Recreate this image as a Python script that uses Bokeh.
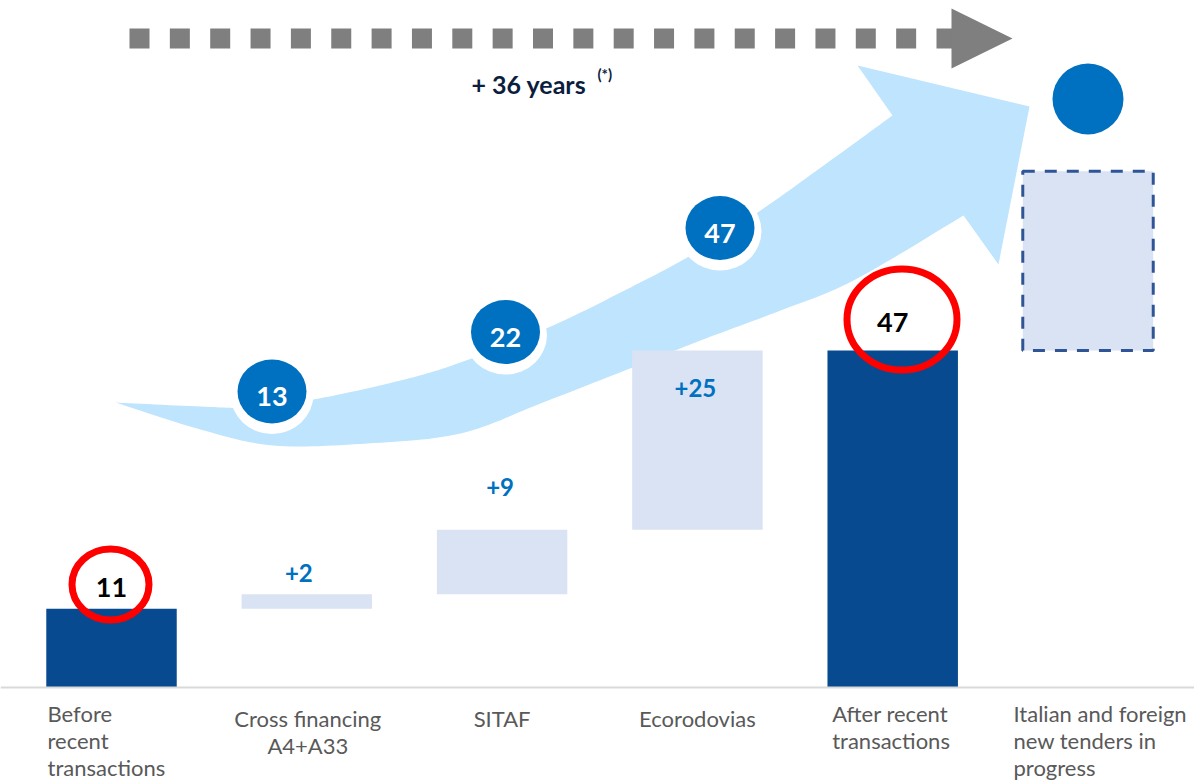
import numpy as np
from bokeh.plotting import figure
from bokeh.models import Range1d, ColumnDataSource, Span
from bokeh.core.properties import value
from bokeh.embed import file_html
from bokeh.resources import INLINE

# ---------------- data ----------------
categories = ["Before\nrecent\ntransactions", "Cross financing\nA4+A33", "SITAF",
              "Ecorodovias", "After recent\ntransactions",
              "Italian and foreign\nnew tenders in\nprogress"]
start_value = 11
increments = [2, 9, 25]
end_value = 47
pipeline_increment = 25          # dashed, still to come
milestones = [13, 22, 47]        # values shown on the curved arrow
horizon_label = "+ 36 years"
horizon_note = "(*)"

# ---------------- styles ----------------
DARK = "#074A8F"
LIGHT = "#DAE3F3"
ARROW = "#BFE4FD"
BLUE = "#0070C0"
RED = "#FF0000"
GREY = "#7F7F7F"
FONT = value("Lato")

W, H = 1194, 784
n = len(categories)
idx = list(range(n))

cum = list(np.cumsum([start_value] + increments))       # 11, 13, 22, 47
solid_bottom = [0] + cum[:-1] + [0]
solid_top = cum + [end_value]
solid_color = [DARK] + [LIGHT] * len(increments) + [DARK]

p = figure(width=W, height=H, output_backend="svg", toolbar_location=None,
           x_range=Range1d(-0.5684, 5.5453), y_range=Range1d(-13.53, 95.82),
           x_axis_location=None, y_axis_location=None, min_border=0,
           outline_line_color=None, background_fill_color="white")
p.grid.visible = False
# screen-pixel ranges for decorations
p.extra_x_ranges = {"px": Range1d(0, W)}
p.extra_y_ranges = {"px": Range1d(H, 0)}
PX = dict(x_range_name="px", y_range_name="px")


def smooth(pts, k=14):
    P = np.asarray(pts, float)
    P = np.vstack([P[0], P, P[-1]])
    out = []
    for i in range(1, len(P) - 2):
        p0, p1, p2, p3 = P[i - 1], P[i], P[i + 1], P[i + 2]
        for t in np.linspace(0, 1, k, endpoint=False):
            out.append(0.5 * (2 * p1 + (-p0 + p2) * t + (2 * p0 - 5 * p1 + 4 * p2 - p3) * t * t
                              + (-p0 + 3 * p1 - 3 * p2 + p3) * t ** 3))
    out.append(P[-2])
    return np.array(out)


# ---------------- big curved arrow ----------------
upper = smooth([(115, 402), (200, 406), (250, 407), (313, 399), (400, 380), (460, 362),
                (548, 327), (620, 292), (690, 255), (760, 210), (830, 160), (892, 115)])
head = np.array([(857, 65), (1029, 106), (998, 264)])
lower = smooth([(963, 215), (853, 280), (780, 310), (700, 340), (632, 367), (540, 403),
                (460, 433), (367, 443), (273, 445), (200, 429), (115, 402)])
outline = np.vstack([upper, head, lower])
p.patch(outline[:, 0], outline[:, 1], color=ARROW, line_color=None, **PX)

# ---------------- dotted grey arrow ----------------
sq_x = 139 + 40.35 * np.arange(21)
p.rect(x=sq_x, y=38, width=20, height=20, width_units="screen", height_units="screen",
       color=GREY, line_color=None, **PX)
p.patch([951, 951, 1012], [8, 68, 38], color=GREY, line_color=None, **PX)
p.text(x=[471], y=[83], text=[horizon_label], text_font=FONT, text_font_style="bold",
       text_font_size="25px", text_color="#0B1E3D", text_baseline="middle", **PX)
p.text(x=[597], y=[73], text=[horizon_note], text_font=FONT, text_font_style="bold",
       text_font_size="15px", text_color="#0B1E3D", text_baseline="middle", **PX)

# ---------------- baseline ----------------
p.add_layout(Span(location=0, dimension="width", line_color="#D9D9D9", line_width=2))

# ---------------- bars ----------------
bars = ColumnDataSource(dict(x=idx[:5], bottom=solid_bottom, top=solid_top, color=solid_color))
p.vbar(x="x", bottom="bottom", top="top", width=0.668, fill_color="color",
       line_color=None, source=bars)
p.vbar(x=[5], bottom=[end_value], top=[end_value + pipeline_increment], width=0.668,
       fill_color=LIGHT, line_color="#2F5597", line_width=3, line_dash="12 10")

# ---------------- milestone circles on the arrow ----------------
mc_x = [271.5, 505, 719.5]
mc_y = [391, 331.5, 227.5]
p.ellipse(x=mc_x, y=[v + 3 for v in mc_y], width=83, height=79, width_units="screen",
          height_units="screen", color="white", line_color=None, **PX)
p.ellipse(x=mc_x, y=mc_y, width=69, height=64, width_units="screen",
          height_units="screen", color=BLUE, line_color=None, **PX)
p.ellipse(x=[1087.5], y=[98.5], width=71, height=71, width_units="screen",
          height_units="screen", color=BLUE, line_color=None, **PX)
p.text(x=[v for v in mc_x], y=[v + 5 for v in mc_y], text=[str(m) for m in milestones],
       text_font=FONT, text_font_style="bold", text_font_size="27px", text_color="white",
       text_align="center", text_baseline="middle", **PX)

# ---------------- value labels ----------------
tot = ColumnDataSource(dict(x=[0, 4], y=[start_value, end_value],
                            t=[str(start_value), str(end_value)], dy=[-21, -28]))
p.text(x="x", y="y", text="t", y_offset="dy", source=tot, text_font=FONT,
       text_font_style="bold", text_font_size="27px", text_color="black",
       text_align="center", text_baseline="middle")

inc = ColumnDataSource(dict(x=[1, 2, 3], y=cum[1:], t=["+%d" % v for v in increments],
                            dx=[-8, -2, -2], dy=[-21.5, -42.5, 37]))
p.text(x="x", y="y", text="t", x_offset="dx", y_offset="dy", source=inc, text_font=FONT,
       text_font_style="bold", text_font_size="24px", text_color=BLUE,
       text_align="center", text_baseline="middle")

# ---------------- red highlight rings ----------------
p.ellipse(x=[110, 901.5], y=[584, 319], width=[77, 110], height=[71, 101],
          width_units="screen", height_units="screen", fill_color=None,
          line_color=RED, line_width=7, **PX)

# ---------------- category labels ----------------
left = [0, 4, 5]
center = [1, 2, 3]
lab_l = ColumnDataSource(dict(x=left, t=[categories[i] for i in left], dx=[-64, -60.5, -74.5]))
p.text(x="x", y=0, text="t", x_offset="dx", y_offset=13, source=lab_l, text_font=FONT,
       text_font_size="22px", text_color="#595959", text_align="left",
       text_baseline="top", text_line_height=1.0)
lab_c = ColumnDataSource(dict(x=center, t=[categories[i] for i in center], dx=[1, 0, 0]))
p.text(x="x", y=0, text="t", x_offset="dx", y_offset=18, source=lab_c, text_font=FONT,
       text_font_size="22px", text_color="#595959", text_align="center",
       text_baseline="top", text_line_height=1.0)

open("out.html", "w").write(file_html(p, INLINE))
